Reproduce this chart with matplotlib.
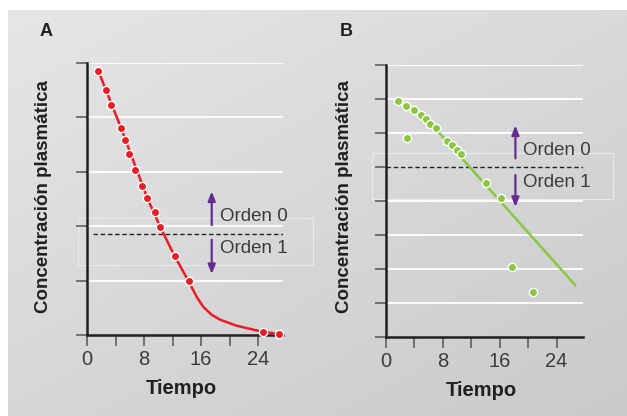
import numpy as np
import matplotlib
matplotlib.use("Agg")
import matplotlib.pyplot as plt
from matplotlib.patches import Rectangle
from matplotlib.colors import LinearSegmentedColormap

# ---------------- data ----------------
# Panel A
a_time = [1.6, 2.7, 3.4, 4.8, 5.35, 5.9, 6.7, 7.75, 8.45, 9.5, 10.3, 12.3, 14.3, 24.7, 26.9]
a_conc = [4.85, 4.5, 4.22, 3.8, 3.58, 3.32, 3.04, 2.74, 2.52, 2.26, 1.98, 1.45, 1.0, 0.05, 0.02]
a_curve_x = [1.6, 4.8, 8.45, 10.3, 12.3, 14.2, 15.4, 16.3, 17.5, 18.7, 21.0, 23.3, 24.6, 26.9]
a_curve_y = [4.85, 3.8, 2.52, 1.98, 1.45, 1.0, 0.70, 0.52, 0.37, 0.28, 0.17, 0.10, 0.06, 0.02]
a_threshold = 1.86

# Panel B
b_time = [1.73, 2.82, 3.99, 4.93, 5.59, 6.2, 7.0, 2.91, 8.59, 9.3, 9.96, 10.52, 14.04, 16.15, 17.75, 20.66]
b_conc = [6.93, 6.80, 6.67, 6.54, 6.40, 6.27, 6.14, 5.86, 5.77, 5.63, 5.50, 5.37, 4.54, 4.07, 2.06, 1.31]
b_line_x = [6.2, 26.6]
b_line_y = [6.30, 1.52]
b_threshold = 5.0

x_ticks = [0, 4, 8, 12, 16, 20, 24]
x_ticklabels = ["0", "", "8", "", "16", "", "24"]
xlabel = "Tiempo"
ylabel = "Concentración plasmática"

# ---------------- style ----------------
W, H = 627, 416
RED = "#ec1c24"
GREEN = "#8cc63f"
PURPLE = "#662d91"
SPINE = "#231f20"
TXT = "#3c3c3c"
FONT = "Liberation Sans"

fig = plt.figure(figsize=(W / 100, H / 100), dpi=100)
fig.patch.set_facecolor("white")

# gradient background panel
bg = fig.add_axes([8 / W, 0, 1 - 8 / W, 1 - 10 / H], zorder=-10)
yy, xx = np.mgrid[0:1:200j, 0:1:300j]
grad = 0.55 * yy + 0.45 * xx
cmap = LinearSegmentedColormap.from_list("bg", ["#e5e6e8", "#c9cacc"])
bg.imshow(grad, cmap=cmap, aspect="auto", extent=[0, 1, 0, 1], origin="upper")
bg.axis("off")


def px_rect(x0, y0, x1, y1):
    return [x0 / W, 1 - y1 / H, (x1 - x0) / W, (y1 - y0) / H]


def style_axes(ax, xmax, ymax):
    ax.set_facecolor("none")
    ax.set_xlim(0, xmax)
    ax.set_ylim(0, ymax)
    for s in ["top", "right"]:
        ax.spines[s].set_visible(False)
    for s in ["left", "bottom"]:
        ax.spines[s].set_color(SPINE)
        ax.spines[s].set_linewidth(1.8)
    ax.set_xticks(x_ticks)
    ax.set_xticklabels(x_ticklabels, fontfamily=FONT, fontsize=14.5, color=TXT)
    ax.set_yticks(np.arange(0, ymax + 0.01, 1))
    ax.set_yticklabels([])
    ax.tick_params(axis="x", direction="out", length=8, width=1.1, color="#555555", pad=3)
    ax.tick_params(axis="y", direction="out", length=8, width=1.1, color="#555555")


def arrows_and_text(ax, x, up0, up1, dn0, dn1, tx, ty0, ty1):
    kw = dict(arrowstyle="-|>,head_length=0.55,head_width=0.22", color=PURPLE, lw=1.6,
              shrinkA=0, shrinkB=0)
    ax.annotate("", xy=(x, up1), xytext=(x, up0), arrowprops=kw)
    ax.annotate("", xy=(x, dn1), xytext=(x, dn0), arrowprops=kw)
    ax.text(tx, ty0, "Orden 0", fontfamily=FONT, fontsize=13.5, color=TXT, va="center", ha="left")
    ax.text(tx, ty1, "Orden 1", fontfamily=FONT, fontsize=13.5, color=TXT, va="center", ha="left")


# faint boxes
for (x0, y0, x1, y1) in [(78, 218, 313, 265), (372, 153, 613, 199)]:
    fig.patches.append(Rectangle((x0 / W, 1 - y1 / H), (x1 - x0) / W, (y1 - y0) / H,
                                 transform=fig.transFigure, fill=False,
                                 edgecolor="#e9eaec", lw=0.8, zorder=-5))

# ---------------- Panel A ----------------
axA = fig.add_axes(px_rect(87, 63, 283, 335))
style_axes(axA, 27.5, 5)
for gy in range(1, 6):
    axA.axhline(gy, color="white", lw=1.3, zorder=1)
axA.plot([0.9, 27.5], [a_threshold, a_threshold], color="#222222", lw=1.0,
         dashes=(3.2, 2), zorder=2)
axA.plot(a_curve_x, a_curve_y, color=RED, lw=1.8, zorder=3,
         solid_capstyle="round", solid_joinstyle="round")
axA.plot(a_time, a_conc, "o", color=RED, ms=6, mec="white", mew=1.0, zorder=4, clip_on=False)
arrows_and_text(axA, 17.5, 2.02, 2.64, 1.75, 1.12, 18.6, 2.17, 1.59)

# ---------------- Panel B ----------------
axB = fig.add_axes(px_rect(386, 65, 582.7, 336.7))
style_axes(axB, 27.66, 8)
for gy in range(1, 9):
    if gy != 5:
        axB.axhline(gy, color="white", lw=1.3, zorder=1)
axB.axhline(b_threshold, color="#222222", lw=1.0, dashes=(3.2, 2), zorder=2)
axB.plot(b_line_x, b_line_y, color=GREEN, lw=1.8, zorder=3)
axB.plot(b_time, b_conc, "o", color=GREEN, ms=6, mec="white", mew=1.0, zorder=4, clip_on=False)
arrows_and_text(axB, 18.2, 5.25, 6.22, 4.76, 3.82, 19.2, 5.47, 4.54)

# ---------------- labels ----------------
bold = dict(fontfamily=FONT, fontweight="bold", color="#231f20")
fig.text(44 / W, 1 - 196.5 / H, ylabel, rotation=90, ha="center", va="center", fontsize=13.5, **bold)
fig.text(344 / W, 1 - 196.5 / H, ylabel, rotation=90, ha="center", va="center", fontsize=13.5, **bold)
fig.text(181.5 / W, 1 - 388 / H, xlabel, ha="center", va="center", fontsize=14.5, **bold)
fig.text(481 / W, 1 - 390 / H, xlabel, ha="center", va="center", fontsize=14.5, **bold)
fig.text(46.5 / W, 1 - 32 / H, "A", ha="center", va="center", fontsize=13, **bold)
fig.text(346 / W, 1 - 32 / H, "B", ha="center", va="center", fontsize=13, **bold)

fig.savefig("out.png", dpi=100, facecolor=fig.get_facecolor())
